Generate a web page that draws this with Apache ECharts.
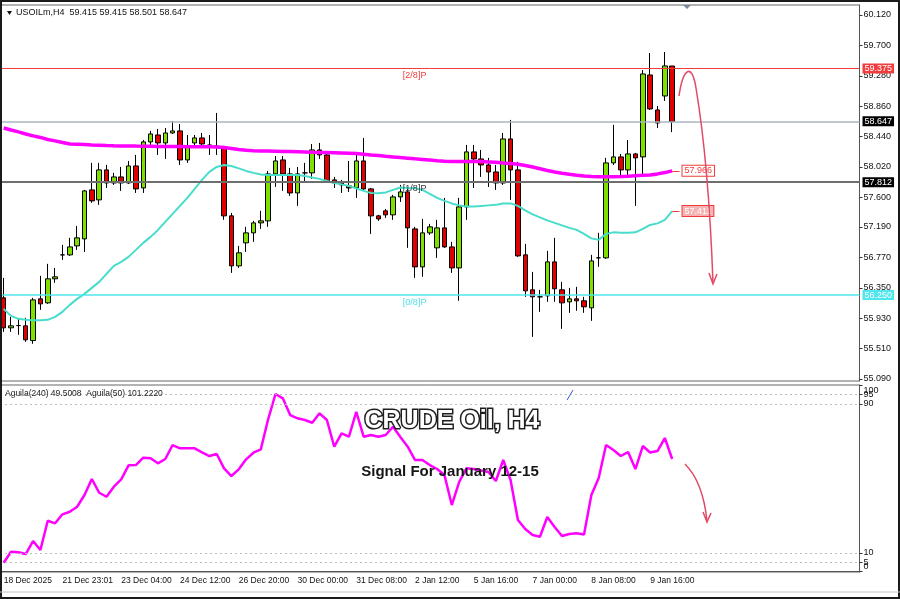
<!DOCTYPE html>
<html>
<head>
<meta charset="utf-8">
<title>USOILm, H4 - Crude Oil signal</title>
<script src="https://cdn.jsdelivr.net/npm/echarts@6/dist/echarts.min.js"></script>
<style>
  html, body { margin: 0; padding: 0; background: #fff; }
  #chart { width: 900px; height: 599px; }
</style>
</head>
<body>
<div id="chart"></div>
<script>
// H4 candles, oldest first
const opens = [
  56.211, 55.797, 55.828, 55.824, 55.621, 56.197, 56.142, 56.474, 56.805, 56.805,
  56.929, 57.026, 57.703, 57.565, 57.979, 57.799, 57.882, 57.799, 58.034, 57.730,
  58.366, 58.462, 58.352, 58.490, 58.518, 58.117, 58.352, 58.421, 58.324, 58.311,
  58.297, 57.344, 56.653, 56.971, 57.109, 57.247, 57.275, 57.924, 58.117, 57.924,
  57.661, 57.938, 57.938, 58.255, 58.186, 57.841, 57.799, 57.758, 57.730, 58.103,
  57.717, 57.344, 57.413, 57.358, 57.606, 57.675, 57.164, 56.639, 57.109, 56.902,
  57.178, 56.915, 56.625, 57.468, 58.228, 58.131, 58.048, 57.951, 57.799, 58.407,
  57.979, 56.805, 56.322, 56.225, 56.239, 56.708, 56.322, 56.156, 56.197, 56.170,
  56.073, 56.764, 56.764, 58.076, 58.159, 57.979, 58.200, 58.159, 59.291, 58.808,
  59.001, 59.415
];
const closes = [
  55.797, 55.824, 55.828, 55.631, 56.183, 56.128, 56.474, 56.501, 56.805, 56.915,
  57.040, 57.689, 57.551, 57.979, 57.799, 57.882, 57.799, 58.034, 57.717, 58.366,
  58.476, 58.352, 58.490, 58.518, 58.117, 58.297, 58.421, 58.338, 58.297, 58.297,
  57.344, 56.653, 56.833, 57.109, 57.247, 57.275, 57.924, 58.103, 57.924, 57.661,
  57.924, 57.938, 58.255, 58.186, 57.827, 57.799, 57.772, 57.730, 58.103, 57.717,
  57.344, 57.302, 57.358, 57.606, 57.675, 57.178, 56.639, 57.109, 57.192, 57.178,
  56.915, 56.625, 57.468, 58.228, 58.131, 58.048, 57.951, 57.799, 58.407, 57.979,
  56.791, 56.308, 56.225, 56.225, 56.708, 56.336, 56.142, 56.197, 56.170, 56.087,
  56.722, 56.764, 58.076, 58.159, 57.979, 58.200, 58.145, 59.305, 58.822, 58.628,
  59.416, 58.647
];
const lows = [
  55.741, 55.741, 55.700, 55.603, 55.576, 56.045, 56.128, 56.418, 56.736, 56.791,
  56.874, 56.846, 57.523, 57.496, 57.730, 57.772, 57.689, 57.786, 57.661, 57.661,
  58.311, 58.186, 58.131, 58.476, 58.048, 58.076, 58.297, 58.297, 58.186, 58.186,
  57.289, 56.556, 56.625, 56.846, 56.985, 57.164, 57.192, 57.744, 57.689, 57.620,
  57.482, 57.799, 57.855, 58.131, 57.799, 57.730, 57.661, 57.675, 57.592, 57.703,
  57.095, 57.275, 57.316, 57.289, 57.537, 56.902, 56.487, 56.501, 57.081, 56.764,
  56.902, 56.556, 56.170, 57.289, 57.730, 57.882, 57.744, 57.703, 57.772, 57.565,
  56.778, 56.225, 55.672, 56.018, 56.156, 56.156, 55.783, 56.004, 56.032, 56.004,
  55.893, 56.639, 56.750, 58.048, 57.882, 57.910, 57.482, 57.910, 58.808, 58.559,
  58.932, 58.501
];
const highs = [
  56.487, 55.949, 55.921, 55.935, 56.211, 56.515, 56.681, 56.625, 56.943, 57.040,
  57.205, 57.703, 58.076, 58.076, 58.048, 57.938, 58.020, 58.103, 58.186, 58.393,
  58.518, 58.545, 58.559, 58.656, 58.614, 58.462, 58.462, 58.490, 58.462, 58.766,
  58.311, 57.385, 56.929, 57.192, 57.275, 57.413, 57.965, 58.172, 58.172, 58.007,
  58.020, 58.076, 58.338, 58.352, 58.228, 57.882, 57.841, 58.103, 58.214, 58.421,
  57.730, 57.358, 57.440, 57.634, 57.772, 57.730, 57.192, 57.302, 57.233, 57.289,
  57.592, 56.985, 57.592, 58.324, 58.324, 58.255, 58.145, 58.048, 58.490, 58.670,
  58.090, 56.957, 56.570, 56.322, 56.860, 57.040, 56.432, 56.349, 56.363, 56.225,
  56.805, 57.109, 58.145, 58.601, 58.200, 58.393, 58.214, 59.360, 59.595, 58.863,
  59.609, 59.415
];

// slow moving average (magenta)
const maSlow = [
  58.559, 58.531, 58.504, 58.476, 58.449, 58.428, 58.400, 58.380, 58.359, 58.338,
  58.334, 58.330, 58.324, 58.320, 58.316, 58.313, 58.311, 58.311, 58.308, 58.306,
  58.305, 58.304, 58.302, 58.301, 58.301, 58.299, 58.299, 58.299, 58.298, 58.297,
  58.290, 58.276, 58.262, 58.251, 58.244, 58.241, 58.239, 58.236, 58.233, 58.232,
  58.229, 58.226, 58.223, 58.221, 58.219, 58.217, 58.214, 58.211, 58.206, 58.196,
  58.186, 58.178, 58.168, 58.159, 58.149, 58.141, 58.132, 58.124, 58.116, 58.107,
  58.099, 58.094, 58.094, 58.094, 58.094, 58.094, 58.089, 58.084, 58.076, 58.069,
  58.058, 58.041, 58.020, 57.996, 57.972, 57.951, 57.934, 57.918, 57.906, 57.896,
  57.888, 57.885, 57.885, 57.886, 57.889, 57.893, 57.899, 57.904, 57.910, 57.924,
  57.942, 57.966
];
// fast moving average (turquoise)
const maFast = [
  56.059, 55.962, 55.921, 55.907, 55.900, 55.900, 55.907, 55.949, 56.018, 56.114,
  56.197, 56.266, 56.349, 56.432, 56.543, 56.653, 56.708, 56.777, 56.874, 56.971,
  57.054, 57.150, 57.261, 57.371, 57.482, 57.592, 57.717, 57.841, 57.951, 58.020,
  58.048, 58.034, 58.000, 57.965, 57.938, 57.917, 57.910, 57.910, 57.910, 57.910,
  57.910, 57.896, 57.875, 57.855, 57.827, 57.799, 57.779, 57.758, 57.723, 57.689,
  57.661, 57.657, 57.668, 57.703, 57.737, 57.730, 57.726, 57.703, 57.648, 57.592,
  57.551, 57.516, 57.489, 57.475, 57.475, 57.482, 57.489, 57.496, 57.516, 57.516,
  57.482, 57.420, 57.364, 57.323, 57.281, 57.247, 57.212, 57.178, 57.150, 57.095,
  57.033, 57.012, 57.095, 57.116, 57.109, 57.109, 57.116, 57.164, 57.219, 57.240,
  57.288, 57.411
];
// Aguila oscillator (lower pane)
const aguila = [
  4.78, 10.68, 10.36, 9.45, 16.43, 11.60, 27.33, 25.93, 30.77, 32.16,
  34.85, 41.13, 49.72, 42.36, 40.21, 45.58, 49.56, 57.07, 57.23, 61.15,
  60.83, 58.15, 60.46, 67.97, 66.20, 66.20, 66.20, 64.05, 62.07, 63.14,
  55.46, 51.33, 54.93, 60.30, 63.84, 65.66, 81.77, 95.36, 93.05, 84.08,
  82.31, 81.40, 79.95, 84.99, 81.40, 67.06, 74.26, 72.43, 85.85, 72.43,
  73.34, 72.43, 73.34, 77.80, 72.27, 67.06, 59.92, 59.92, 57.23, 55.09,
  51.87, 35.76, 48.11, 55.46, 55.09, 54.28, 53.48, 48.64, 59.92, 49.18,
  27.70, 22.87, 19.65, 18.74, 29.32, 23.95, 19.11, 20.19, 20.56, 19.92,
  41.13, 50.26, 67.97, 65.29, 62.07, 64.21, 55.09, 67.44, 63.95, 64.75,
  71.73, 60.46
];

const timeLabels = {
  0: '18 Dec 2025', 8: '21 Dec 23:01', 16: '23 Dec 04:00', 24: '24 Dec 12:00',
  32: '26 Dec 20:00', 40: '30 Dec 00:00', 48: '31 Dec 08:00', 56: '2 Jan 12:00',
  64: '5 Jan 16:00', 72: '7 Jan 00:00', 80: '8 Jan 08:00', 88: '9 Jan 16:00'
};
const priceTicks = [55.09, 55.51, 55.93, 56.35, 56.77, 57.19, 57.60, 58.02, 58.44, 58.86, 59.28, 59.70, 60.12];
const oscTicks = [0, 10, 90, 100];
const oscTicksExtra = [5, 95]; // MT4 prints these on top of their neighbours
const oscLevels = [95, 90, 10, 5];

// horizontal levels and their tags on the price scale
const levelValues = [59.375, 58.647, 57.812, 56.250];
const murreyNames = ['[2/8]P', '[1/8]P', '[0/8]P'];
const murreyValues = [59.375, 57.812, 56.250];
const maSlowLast = 57.966;
const maFastLast = 57.411;

const slotCount = 117; // chart keeps empty space to the right
const cats = Array.from({ length: slotCount }, (_, i) => String(i));
const candles = opens.map((o, i) => [o, closes[i], lows[i], highs[i]]);
const lastIdx = opens.length - 1;

const FONT = 'Liberation Sans';
const lineColors = ['#f03c3c', '#aab4c2', '#6e6e6e', '#4fe6ee'];
const lineWidths = [1, 1.5, 2, 1.5];
const boxColors = ['#f03c3c', '#000', '#000', '#4fe6ee'];
const murreyColors = ['#f04040', '#333', '#4fe0ea'];
const arrowRed = '#e24a66';

const chart = echarts.init(document.getElementById('chart'));

const gridBase = { left: -1.5, width: 861, show: true, borderColor: '#666', borderWidth: 1, backgroundColor: '#fff' };
const oscLabel = {
  fontSize: 9, color: '#111', margin: 4, fontFamily: FONT,
  showMinLabel: true, showMaxLabel: true, hideOverlap: false
};

const option = {
  animation: false,
  backgroundColor: '#fff',
  textStyle: { fontFamily: FONT },
  grid: [
    Object.assign({ top: 5, height: 376 }, gridBase),
    Object.assign({ top: 385, height: 187 }, gridBase)
  ],
  xAxis: [
    { type: 'category', gridIndex: 0, data: cats, boundaryGap: true, show: false },
    {
      type: 'category', gridIndex: 1, data: cats, boundaryGap: true,
      axisLine: { lineStyle: { color: '#555' } },
      axisTick: { alignWithLabel: true, length: 4, interval: (i) => timeLabels[i] !== undefined, lineStyle: { color: '#333' } },
      axisLabel: {
        interval: (i) => timeLabels[i] !== undefined,
        formatter: (v, i) => timeLabels[i] || '',
        align: 'left', margin: 4, fontSize: 8.5, color: '#111', fontFamily: FONT
      },
      splitLine: { show: false }
    }
  ],
  yAxis: [
    {
      type: 'value', gridIndex: 0, position: 'right', min: 55.062, max: 60.258, scale: true,
      splitLine: { show: false },
      axisLine: { show: true, lineStyle: { color: '#555' } },
      axisTick: { show: true, length: 3, customValues: priceTicks, lineStyle: { color: '#333' } },
      axisLabel: { customValues: priceTicks, formatter: (v) => v.toFixed(3), fontSize: 9, color: '#111', margin: 4, fontFamily: FONT }
    },
    {
      type: 'value', gridIndex: 1, position: 'right', min: -0.2, max: 100.2,
      splitLine: { show: false },
      axisLine: { show: true, lineStyle: { color: '#555' } },
      axisTick: { show: true, length: 3, customValues: oscTicks.concat(oscTicksExtra), lineStyle: { color: '#333' } },
      axisLabel: Object.assign({
        customValues: oscTicks,
        formatter: (v) => v === 100 ? '{dn|100}' : v === 0 ? '{up|0}' : String(v),
        rich: {
          dn: { fontSize: 9, color: '#111', fontFamily: FONT, padding: [11, 0, 0, 0] },
          up: { fontSize: 9, color: '#111', fontFamily: FONT, padding: [0, 0, 11, 0] }
        }
      }, oscLabel)
    },
    {
      type: 'value', gridIndex: 1, position: 'right', min: -0.2, max: 100.2,
      splitLine: { show: false }, axisLine: { show: false }, axisTick: { show: false },
      axisLabel: Object.assign({ customValues: oscTicksExtra, formatter: (v) => String(v) }, oscLabel)
    }
  ],
  series: [
    {
      type: 'candlestick', name: 'USOILm,H4', xAxisIndex: 0, yAxisIndex: 0,
      data: candles, barWidth: 5,
      itemStyle: {
        color: '#7fe000', color0: '#e00000',
        borderColor: '#000', borderColor0: '#000', borderColorDoji: '#000', borderWidth: 1
      },
      markLine: {
        silent: true, symbol: ['none', 'none'], animation: false,
        data: levelValues.map((v, k) => ({
          yAxis: v,
          lineStyle: { color: lineColors[k], width: lineWidths[k], type: 'solid' },
          label: {
            show: true, position: 'end', distance: 3, formatter: v.toFixed(3),
            backgroundColor: boxColors[k], color: '#fff', padding: [1, 2, 0, 2],
            fontSize: 9, fontFamily: FONT
          }
        }))
      },
      markPoint: {
        silent: true, symbol: 'circle', symbolSize: 1, animation: false,
        itemStyle: { color: 'rgba(0,0,0,0)' },
        data: murreyValues.map((v, k) => ({
          coord: [54, v],
          label: {
            show: true, position: 'right', distance: 0, offset: [2, 7],
            formatter: murreyNames[k], color: murreyColors[k], fontSize: 9, fontFamily: FONT
          }
        }))
      }
    },
    {
      type: 'line', name: 'MA slow', xAxisIndex: 0, yAxisIndex: 0, data: maSlow,
      showSymbol: false, symbol: 'none', lineStyle: { color: '#ff00ff', width: 3.5 },
      markLine: {
        silent: true, symbol: ['none', 'none'], animation: false,
        lineStyle: { color: '#f03c3c', width: 1, type: 'solid' },
        data: [[{ coord: [lastIdx, maSlowLast] }, { coord: [lastIdx + 1, maSlowLast] }]],
        label: {
          show: true, position: 'end', distance: 3, formatter: maSlowLast.toFixed(3),
          backgroundColor: '#fff', borderColor: '#f03c3c', borderWidth: 1,
          color: '#f03c3c', padding: [1, 2, 0, 2], fontSize: 9, fontFamily: FONT
        }
      }
    },
    {
      type: 'line', name: 'MA fast', xAxisIndex: 0, yAxisIndex: 0, data: maFast,
      showSymbol: false, symbol: 'none', lineStyle: { color: '#48dccb', width: 2 },
      markLine: {
        silent: true, symbol: ['none', 'none'], animation: false,
        lineStyle: { color: '#f03c3c', width: 1, type: 'solid' },
        data: [[{ coord: [lastIdx, maFastLast] }, { coord: [lastIdx + 1, maFastLast] }]],
        label: {
          show: true, position: 'end', distance: 3, formatter: maFastLast.toFixed(3),
          backgroundColor: '#f6b3b3', borderColor: '#f03c3c', borderWidth: 1,
          color: '#fff', padding: [1, 2, 0, 2], fontSize: 9, fontFamily: FONT
        }
      }
    },
    {
      type: 'line', name: 'Aguila', xAxisIndex: 1, yAxisIndex: 1, data: aguila,
      showSymbol: false, symbol: 'none', lineStyle: { color: '#ff00ff', width: 2.5 },
      markLine: {
        silent: true, symbol: ['none', 'none'], animation: false,
        lineStyle: { color: '#bdbdbd', width: 1, type: [2, 3] },
        label: { show: false },
        data: oscLevels.map((v) => ({ yAxis: v }))
      }
    }
  ],
  graphic: [
    // outer frame
    { type: 'rect', z: 90, shape: { x: 0.5, y: 0.5, width: 899, height: 598 }, style: { fill: 'none', stroke: '#1a1a1a', lineWidth: 3 } },
    { type: 'line', z: 90, shape: { x1: 0, y1: 592, x2: 900, y2: 592 }, style: { stroke: '#c8c8c8', lineWidth: 1 } },
    // header of the price pane
    { type: 'polygon', z: 100, shape: { points: [[7, 11], [12, 11], [9.5, 15]] }, style: { fill: '#111' } },
    { type: 'text', z: 100, style: { x: 16, y: 13, text: 'USOILm,H4  59.415 59.415 58.501 58.647', font: '9px "Liberation Sans"', fill: '#111', verticalAlign: 'middle' } },
    { type: 'text', z: 100, style: { x: 5, y: 393.5, text: 'Aguila(240) 49.5008  Aguila(50) 101.2220', font: '8.5px "Liberation Sans"', fill: '#222', verticalAlign: 'middle' } },
    // chart-shift marker
    { type: 'polygon', z: 100, shape: { points: [[683, 5], [691, 5], [687, 9]] }, style: { fill: '#7a8899' } },
    // small blue trend stub in the oscillator pane
    { type: 'line', z: 100, shape: { x1: 567, y1: 400, x2: 573, y2: 390 }, style: { stroke: '#3a5fcd', lineWidth: 1 } },
    // forecast arrows
    { type: 'bezierCurve', z: 100, shape: { x1: 679, y1: 96, cpx1: 683, cpy1: 68, cpx2: 692, cpy2: 62, x2: 696, y2: 88 }, style: { stroke: arrowRed, lineWidth: 1.5, fill: 'none' } },
    { type: 'bezierCurve', z: 100, shape: { x1: 696, y1: 88, cpx1: 703, cpy1: 130, cpx2: 710, cpy2: 200, x2: 713, y2: 283 }, style: { stroke: arrowRed, lineWidth: 1.5, fill: 'none' } },
    { type: 'polyline', z: 100, shape: { points: [[709, 273], [713, 284], [717, 274]] }, style: { stroke: arrowRed, lineWidth: 1.5, fill: 'none' } },
    { type: 'bezierCurve', z: 100, shape: { x1: 685, y1: 464, cpx1: 703, cpy1: 482, x2: 707, y2: 521 }, style: { stroke: arrowRed, lineWidth: 1.5, fill: 'none' } },
    { type: 'polyline', z: 100, shape: { points: [[703, 512], [707, 522], [711, 513]] }, style: { stroke: arrowRed, lineWidth: 1.5, fill: 'none' } },
    // overlay titles
    {
      type: 'text', z: 110,
      style: {
        x: 452, y: 421, text: 'CRUDE Oil, H4', font: 'bold 25px "Liberation Sans"',
        fill: '#ffffff', stroke: '#1e1e1e', lineWidth: 3, strokeFirst: true,
        align: 'center', verticalAlign: 'middle',
        shadowBlur: 4, shadowColor: 'rgba(0,0,0,0.55)', shadowOffsetX: 1, shadowOffsetY: 2
      }
    },
    {
      type: 'text', z: 110,
      style: {
        x: 450, y: 472, text: 'Signal For January 12-15', font: 'bold 15px "Liberation Sans"',
        fill: '#151515', align: 'center', verticalAlign: 'middle',
        shadowBlur: 4, shadowColor: 'rgba(0,0,0,0.6)', shadowOffsetX: 1, shadowOffsetY: 2
      }
    }
  ]
};

chart.setOption(option);
</script>
</body>
</html>
